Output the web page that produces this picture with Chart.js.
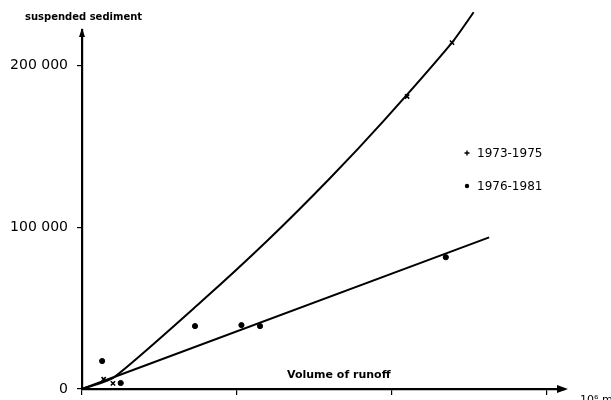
<!DOCTYPE html>
<html>
<head>
<meta charset="utf-8">
<script src="https://cdn.jsdelivr.net/npm/chart.js@4.4.1/dist/chart.umd.min.js"></script>
<style>
  html, body { margin: 0; padding: 0; background: #fff; }
  #wrap { width: 611px; height: 400px; }
</style>
</head>
<body>
<div id="wrap"><canvas id="chart" width="611" height="400"></canvas></div>
<script>
// values (x: volume of runoff, y: suspended sediment)
const seriesNames = ['1973-1975', '1976-1981'];

const pts7375X = [1.4, 2.0, 21.0, 23.9];
const pts7375Y = [6000, 3500, 180900, 214200];

const pts7681X = [1.3, 2.5, 7.3, 10.3, 11.5, 23.5];
const pts7681Y = [17300, 3700, 38900, 39500, 38900, 81500];

// hand drawn curve for 1973-1975 and straight line for 1976-1981
const curve7375X = [0, 2.0, 7.8, 12.0, 16.0, 19.5, 23.9, 25.3];
const curve7375Y = [0, 6800, 54900, 92000, 130200, 166000, 214200, 233000];

const line7681X = [0, 26.3];
const line7681Y = [0, 93800];

const yTicks = [0, 100000, 200000];
const xTicks = [0, 10, 20, 30];

const toXY = (xs, ys) => xs.map((x, i) => ({ x: x, y: ys[i] }));
const fmt = v => v === 0 ? '0' : String(v).replace(/\B(?=(\d{3})+(?!\d))/g, ' ');

// axis arrows, axis captions and the legend
const decor = {
  id: 'decor',
  afterDraw(chart) {
    const ctx = chart.ctx;
    const a = chart.chartArea;
    ctx.save();
    ctx.fillStyle = '#000';
    ctx.strokeStyle = '#000';
    // arrow on y axis
    ctx.beginPath();
    ctx.moveTo(a.left - 3, a.top + 7);
    ctx.lineTo(a.left, a.top - 2);
    ctx.lineTo(a.left + 3, a.top + 7);
    ctx.closePath();
    ctx.fill();
    // arrow on x axis
    ctx.beginPath();
    ctx.moveTo(a.right - 8, a.bottom - 4);
    ctx.lineTo(a.right + 3, a.bottom);
    ctx.lineTo(a.right - 8, a.bottom + 4);
    ctx.closePath();
    ctx.fill();

    ctx.font = 'bold 10px "DejaVu Sans"';
    ctx.textBaseline = 'middle';
    ctx.textAlign = 'left';
    ctx.fillText('suspended sediment', 25, 17);
    ctx.font = 'bold 11px "DejaVu Sans"';
    ctx.fillText('Volume of runoff', 287, 375);
    ctx.font = '11px "DejaVu Sans"';
    ctx.fillText('10\u2076 m\u00b3', 580, 400);

    // legend
    ctx.font = '12px "DejaVu Sans"';
    const ly = [153, 186];
    seriesNames.forEach((name, i) => {
      const mx = 467, my = ly[i];
      if (i === 0) {
        ctx.lineWidth = 1.4;
        ctx.beginPath();
        ctx.moveTo(mx - 2.5, my); ctx.lineTo(mx + 2.5, my);
        ctx.moveTo(mx, my - 2.5); ctx.lineTo(mx, my + 2.5);
        ctx.stroke();
      } else {
        ctx.beginPath();
        ctx.arc(mx, my, 2.2, 0, Math.PI * 2);
        ctx.fill();
      }
      ctx.fillText(name, 477, my + 1);
    });
    ctx.restore();
  }
};

new Chart(document.getElementById('chart'), {
  type: 'scatter',
  data: {
    datasets: [
      {
        type: 'line',
        label: seriesNames[0] + ' curve',
        data: toXY(curve7375X, curve7375Y),
        borderColor: '#000',
        borderWidth: 2,
        pointRadius: 0,
        tension: 0.2,
        clip: false
      },
      {
        type: 'line',
        label: seriesNames[1] + ' line',
        data: toXY(line7681X, line7681Y),
        borderColor: '#000',
        borderWidth: 2,
        pointRadius: 0,
        clip: false
      },
      {
        label: seriesNames[0],
        data: toXY(pts7375X, pts7375Y),
        pointStyle: 'crossRot',
        pointRadius: 3,
        borderColor: '#000',
        borderWidth: 1.6,
        backgroundColor: '#000'
      },
      {
        label: seriesNames[1],
        data: toXY(pts7681X, pts7681Y),
        pointStyle: 'circle',
        pointRadius: 2.6,
        borderColor: '#000',
        backgroundColor: '#000'
      }
    ]
  },
  options: {
    responsive: false,
    animation: false,
    layout: { padding: { top: 30, right: 46, left: 0, bottom: 0 } },
    plugins: {
      legend: { display: false },
      tooltip: { enabled: false }
    },
    scales: {
      x: {
        type: 'linear',
        min: 0,
        max: 31.2,
        afterBuildTicks(scale) { scale.ticks = xTicks.map(v => ({ value: v })); },
        afterFit(scale) { scale.height = 11; scale.paddingLeft = 0; scale.paddingRight = 0; },
        ticks: { display: false },
        grid: { drawOnChartArea: false, tickLength: 6, color: '#000', lineWidth: 1.2 },
        border: { color: '#000', width: 2.2 }
      },
      y: {
        type: 'linear',
        min: 0,
        max: 222000,
        afterBuildTicks(scale) { scale.ticks = yTicks.map(v => ({ value: v })); },
        afterFit(scale) { scale.width = 82; scale.paddingTop = 0; scale.paddingBottom = 0; },
        ticks: {
          color: '#000',
          padding: 9,
          font: { family: 'DejaVu Sans', size: 14 },
          callback: v => fmt(v)
        },
        grid: { drawOnChartArea: false, tickLength: 5, color: '#000', lineWidth: 1.2 },
        border: { color: '#000', width: 2.2 }
      }
    }
  },
  plugins: [decor]
});
</script>
</body>
</html>
